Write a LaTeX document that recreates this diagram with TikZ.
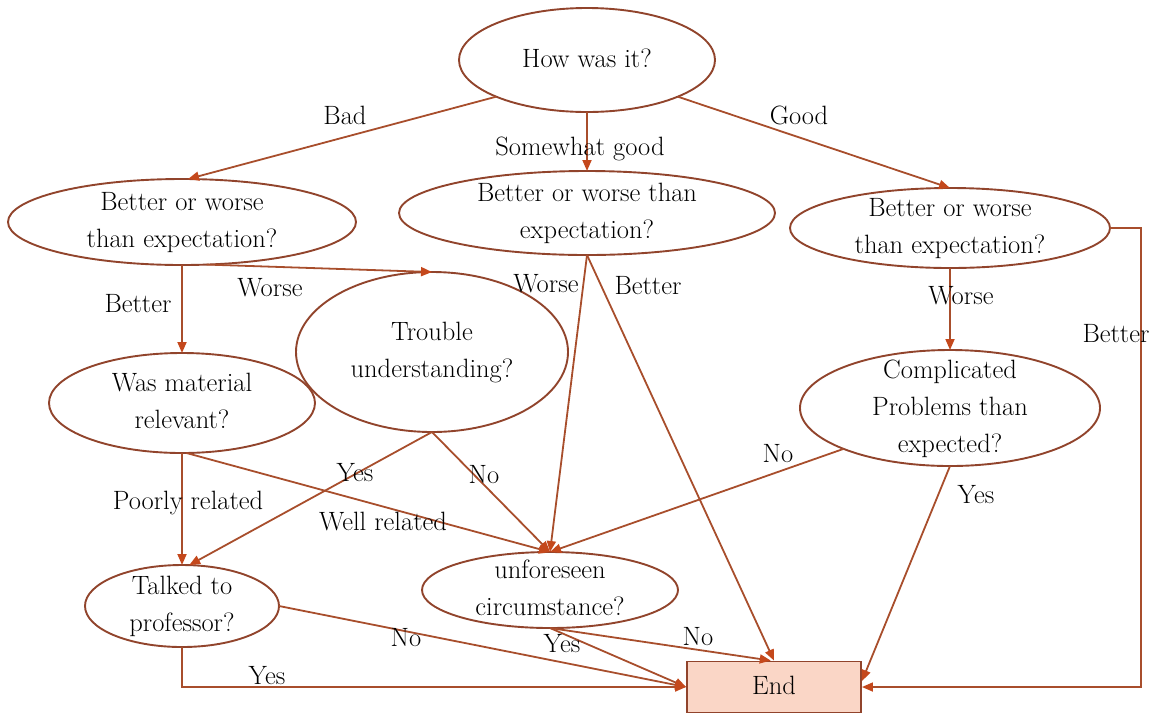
\documentclass[tikz,border=0pt]{standalone}
\usepackage{fontspec}
\usetikzlibrary{shapes.geometric,arrows.meta}
\definecolor{edgeC}{RGB}{168,78,44}
\definecolor{borderC}{RGB}{145,68,44}
\definecolor{tipC}{RGB}{196,72,28}
\definecolor{endFill}{RGB}{250,214,198}
\newcommand\ctext[1]{\hbox to 0pt{\hss\vbox to 0pt{\vss\hbox{\begin{tabular}{@{}c@{}}#1\end{tabular}}\vss}\hss}}
\begin{document}
\begin{tikzpicture}[x=1pt,y=-1pt,font=\fontsize{26.5}{37}\selectfont,
  q/.style={ellipse,draw=borderC,line width=1.9pt,inner sep=0pt,outer sep=0pt},
  edge/.style={draw=edgeC,line width=1.8pt,-{Triangle[length=11pt,width=9pt,color=tipC]}},
  lbl/.style={anchor=base,inner sep=0pt}]
\useasboundingbox (0,0) rectangle (1155,713);
% nodes
\node[q,minimum width=256pt,minimum height=104pt] (how) at (587,60) {\ctext{How was it?}};
\node[q,minimum width=348pt,minimum height=86pt] (lbw) at (182,222) {\ctext{Better or worse\\than expectation?}};
\node[q,minimum width=376pt,minimum height=84pt] (mbw) at (587,213) {\ctext{Better or worse than\\expectation?}};
\node[q,minimum width=320pt,minimum height=80pt] (rbw) at (950,228) {\ctext{Better or worse\\than expectation?}};
\node[q,minimum width=272pt,minimum height=160pt] (trouble) at (432,352) {\ctext{Trouble\\understanding?}};
\node[q,minimum width=266pt,minimum height=100pt] (was) at (182,403) {\ctext{Was material\\relevant?}};
\node[q,minimum width=300pt,minimum height=116pt] (comp) at (950,408) {\ctext{Complicated\\Problems than\\expected?}};
\node[q,minimum width=194pt,minimum height=82pt] (talk) at (182,606) {\ctext{Talked to\\professor?}};
\node[q,minimum width=256pt,minimum height=76pt] (unf) at (550,590) {\ctext{unforeseen\\circumstance?}};
\node[rectangle,draw=borderC,fill=endFill,line width=1.9pt,inner sep=0pt,minimum width=174pt,minimum height=51pt] (endn) at (774,687) {\ctext{End}};
% edges
\draw[edge] (how.202) -- (lbw.82);
\draw[edge] (how.south) -- (mbw.north);
\draw[edge] (how.338) -- (rbw.north);
\draw[edge] (lbw.south) -- (was.north);
\draw[edge] (lbw.-60) -- (trouble.north);
\draw[edge] (mbw.south) -- (unf.north);
\draw[edge] (mbw.south) -- (endn.north);
\draw[edge] (rbw.south) -- (comp.north);
\draw[edge] (rbw.east) -- ++(31,0) |- (endn.east);
\draw[edge] (was.south) -- (talk.north);
\draw[edge] (was.-85) -- (unf.north);
\draw[edge] (trouble.south) -- (talk.80);
\draw[edge] (trouble.south) -- (unf.north);
\draw[edge] (comp.201) -- (unf.north);
\draw[edge] (comp.south) -- ([yshift=6pt]endn.east);
\draw[edge] (talk.east) -- (endn.west);
\draw[edge] (talk.south) |- (endn.west);
\draw[edge] (unf.south) -- (endn.west);
\draw[edge] (unf.south) -- (endn.97);
% labels
\node[lbl] (l1) at (345,124) {Bad};
\node[lbl] (l2) at (580,155) {Somewhat good};
\node[lbl] (l3) at (799,124) {Good};
\node[lbl] (l4) at (138,312) {Better};
\node[lbl] (l5) at (270,296) {Worse};
\node[lbl] (l6) at (546,292) {Worse};
\node[lbl] (l7) at (648,294) {Better};
\node[lbl] (l8) at (961,304) {Worse};
\node[lbl] (l9) at (1116,342) {Better};
\node[lbl] (l10) at (188,509) {Poorly related};
\node[lbl] (l11) at (355,481) {Yes};
\node[lbl] (l12) at (484,483) {No};
\node[lbl] (l13) at (383,530) {Well related};
\node[lbl] (l14) at (778,462) {No};
\node[lbl] (l15) at (976,503) {Yes};
\node[lbl] (l16) at (406,646) {No};
\node[lbl] (l17) at (267,684) {Yes};
\node[lbl] (l18) at (562,652) {Yes};
\node[lbl] (l19) at (698,645) {No};
\end{tikzpicture}
\end{document}
